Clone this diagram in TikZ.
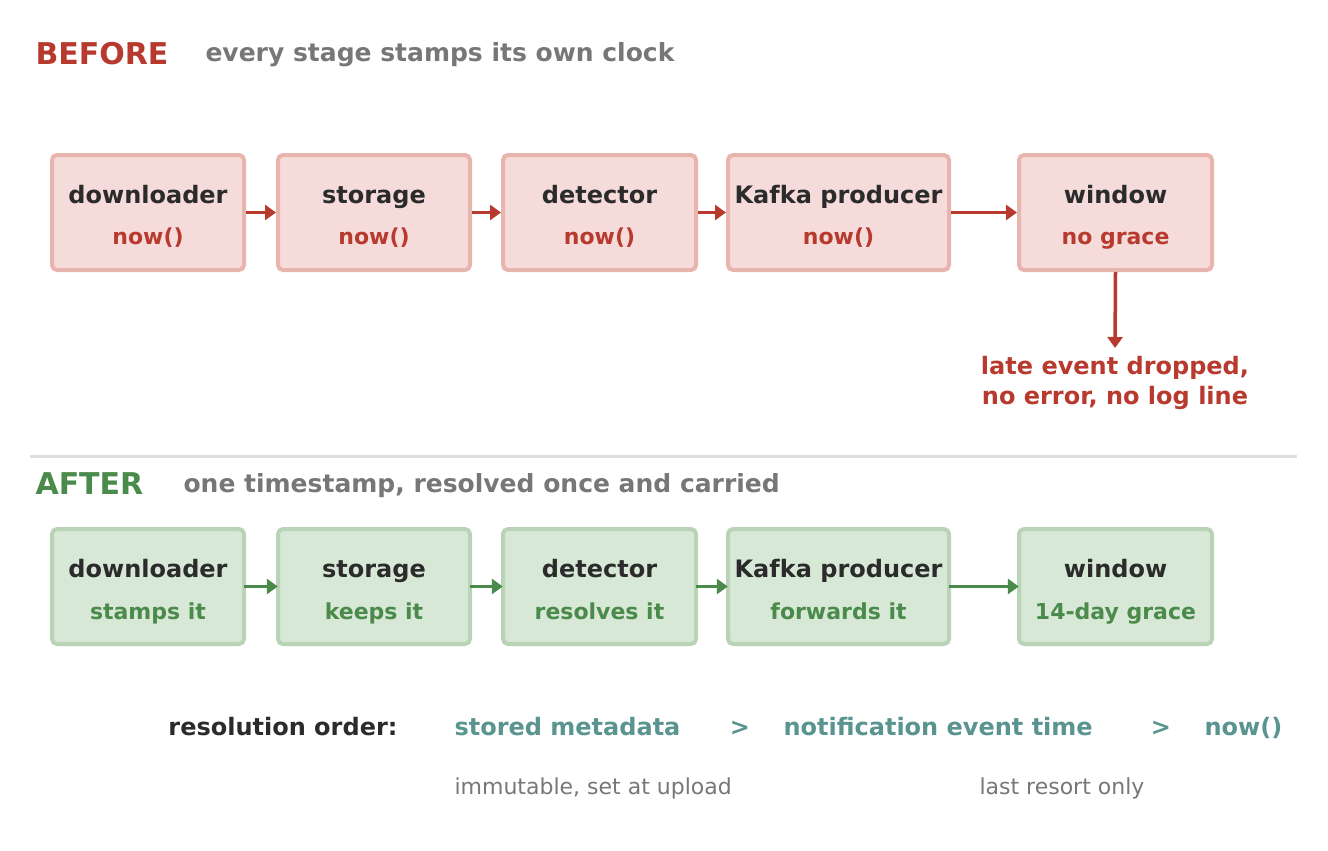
\documentclass[tikz,border=0pt]{standalone}
\usepackage{fontspec}
\setmainfont{DejaVu Sans}
\usetikzlibrary{arrows.meta}
\definecolor{rfill}{HTML}{F5DCDB}\definecolor{rbord}{HTML}{E8B4AE}
\definecolor{gfill}{HTML}{D8E8D6}\definecolor{gbord}{HTML}{B8D3B5}
\definecolor{red}{HTML}{B83A2E}\definecolor{grn}{HTML}{4A8A4A}
\definecolor{dark}{HTML}{2B2B2B}\definecolor{gry}{HTML}{777777}
\definecolor{teal}{HTML}{5A9490}
\begin{document}
\begin{tikzpicture}[x=1pt,y=-1pt,
 box/.style={draw=#1bord,fill=#1fill,line width=4pt,rounded corners=5pt,inner sep=0pt},
 main/.style={font=\fontsize{24}{28}\selectfont\bfseries,text=dark},
 sub/.style={font=\fontsize{22}{26}\selectfont\bfseries},
 arr/.style={line width=3.5pt,draw=#1,-{Triangle[length=11pt,width=15pt]}}]
\useasboundingbox (0,0) rectangle (1328,851);
\node[anchor=base west,font=\fontsize{30}{34}\selectfont\bfseries,text=red] (bt) at (32,65) {BEFORE};
\node[anchor=base west,font=\fontsize{25}{30}\selectfont\bfseries,text=gry] (bs) at (202,62) {every stage stamps its own clock};
\node[anchor=base west,font=\fontsize{30}{34}\selectfont\bfseries,text=grn] (at) at (32,494) {AFTER};
\node[anchor=base west,font=\fontsize{25}{30}\selectfont\bfseries,text=gry] (as) at (180,492) {one timestamp, resolved once and carried};
\coordinate (l1) at (30,456); \coordinate (l2) at (1297,456);
\draw[line width=3pt,draw=black!13] (l1) -- (l2);
\foreach \n/\a/\b/\lab/\s in {r1/52/244/downloader/now(),r2/278/470/storage/now(),r3/503/696/detector/now(),r4/728/949/Kafka producer/now(),r5/1019/1212/window/no grace}{
 \path[box=r] (\a,155) rectangle (\b,270);
 \node[box=r,draw=none,fill=none,minimum width=\b-\a,minimum height=115] (\n) at ({(\a+\b)/2},212.5) {};
 \node[main,anchor=base] at ({(\a+\b)/2},203) {\lab};
 \node[sub,text=red,anchor=base] at ({(\a+\b)/2},244) {\s};}
\foreach \n/\a/\b/\lab/\s in {g1/52/244/downloader/stamps it,g2/278/470/storage/keeps it,g3/503/696/detector/resolves it,g4/728/949/Kafka producer/forwards it,g5/1019/1212/window/14-day grace}{
 \path[box=g] (\a,529) rectangle (\b,644);
 \node[minimum width=\b-\a,minimum height=115,inner sep=0pt] (\n) at ({(\a+\b)/2},586.5) {};
 \node[main,anchor=base] at ({(\a+\b)/2},577) {\lab};
 \node[sub,text=grn,anchor=base] at ({(\a+\b)/2},619) {\s};}
\foreach \x/\y in {1/2,2/3,3/4,4/5}{
 \draw[arr=red] (r\x.east) -- (r\y.west);
 \draw[arr=grn] (g\x.east) -- (g\y.west);}
\node[sub,text=red,align=center,font=\fontsize{24}{30}\selectfont\bfseries] (late) at (1115,383) {late event dropped,\\no error, no log line};
\draw[arr=red] (r5.south) -- (1115,348);
\node[main,anchor=base east] (ro) at (401,735) {resolution order:};
\node[main,text=teal,anchor=base west] (o1) at (451,735) {stored metadata};
\node[main,text=teal,anchor=base] (g1x) at (740,735) {>};
\node[main,text=teal,anchor=base west] (o2) at (780,735) {notification event time};
\node[main,text=teal,anchor=base] (g2x) at (1161,735) {>};
\node[main,text=teal,anchor=base west] (o3) at (1201,735) {now()};
\node[anchor=base west,font=\fontsize{22}{26}\selectfont,text=gry] (n1) at (451,794) {immutable, set at upload};
\node[anchor=base west,font=\fontsize{22}{26}\selectfont,text=gry] (n2) at (976,794) {last resort only};
\end{tikzpicture}
\end{document}
